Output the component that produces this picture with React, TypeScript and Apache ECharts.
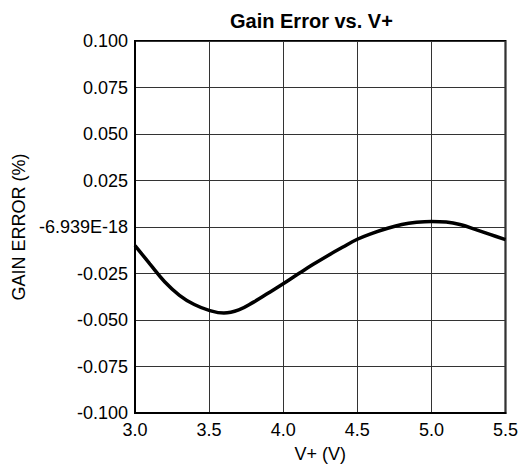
import React, { useEffect, useRef } from "react";
import * as echarts from "echarts";

const xValues = [3.0, 3.1, 3.2, 3.3, 3.4, 3.5, 3.6, 3.7, 3.8, 3.9, 4.0, 4.1, 4.2, 4.3, 4.4, 4.5, 4.6, 4.7, 4.8, 4.9, 5.0, 5.1, 5.2, 5.3, 5.4, 5.5];
const gainError = [-0.010, -0.0198, -0.0294, -0.0367, -0.0417, -0.0448, -0.0463, -0.0446, -0.0404, -0.0355, -0.0305, -0.0253, -0.0202, -0.0154, -0.0109, -0.0066, -0.0034, -0.0008, 0.0013, 0.0025, 0.003, 0.0027, 0.0012, -0.0014, -0.0041, -0.0068];
const yTickLabels = ["-0.100", "-0.075", "-0.050", "-0.025", "-6.939E-18", "0.025", "0.050", "0.075", "0.100"];
const xTickLabels = ["3.0", "3.5", "4.0", "4.5", "5.0", "5.5"];

const FONT = "'Liberation Sans', Arial, sans-serif";

export default function App() {
  const ref = useRef<HTMLDivElement>(null);
  useEffect(() => {
    if (!ref.current) return;
    const chart = echarts.init(ref.current, null, { renderer: "svg" });
    chart.setOption({
      animation: false,
      backgroundColor: "#fff",
      title: {
        text: "Gain Error vs. V+",
        left: 225,
        top: 6,
        textStyle: { fontFamily: FONT, fontSize: 20, fontWeight: "bold", color: "#000" },
      },
      grid: {
        left: 135,
        right: 12,
        top: 41,
        bottom: 53,
        show: true,
        borderColor: "#000",
        borderWidth: 2,
        backgroundColor: "transparent",
      },
      xAxis: {
        type: "value",
        min: 3.0,
        max: 5.5,
        interval: 0.5,
        name: "V+ (V)",
        nameLocation: "middle",
        nameGap: 32,
        nameTextStyle: { fontFamily: FONT, fontSize: 18, color: "#000" },
        axisLine: { show: true, onZero: false, lineStyle: { color: "#000", width: 2 } },
        axisTick: { show: false },
        axisLabel: {
          fontFamily: FONT,
          fontSize: 18,
          color: "#000",
          margin: 8,
          formatter: (v: number) => xTickLabels[Math.round((v - 3.0) / 0.5)] ?? "",
        },
        splitLine: { show: true, lineStyle: { color: "#333", width: 1 } },
      },
      yAxis: {
        type: "value",
        min: -0.1,
        max: 0.1,
        interval: 0.025,
        name: "GAIN ERROR (%)",
        nameLocation: "middle",
        nameGap: 102,
        nameRotate: 90,
        nameTextStyle: { fontFamily: FONT, fontSize: 18, color: "#000" },
        axisLine: { show: true, onZero: false, lineStyle: { color: "#000", width: 2 } },
        axisTick: { show: false },
        axisLabel: {
          fontFamily: FONT,
          fontSize: 18,
          color: "#000",
          margin: 7,
          formatter: (v: number) => yTickLabels[Math.round((v + 0.1) / 0.025)] ?? "",
        },
        splitLine: { show: true, lineStyle: { color: "#333", width: 1 } },
      },
      series: [
        {
          type: "line",
          data: xValues.map((x, i) => [x, gainError[i]]),
          smooth: 0.4,
          symbol: "none",
          lineStyle: { color: "#000", width: 3.5 },
        },
      ],
    });
    return () => chart.dispose();
  }, []);
  return <div ref={ref} style={{ width: 521, height: 468, position: "absolute", left: 0, top: 0 }} />;
}
